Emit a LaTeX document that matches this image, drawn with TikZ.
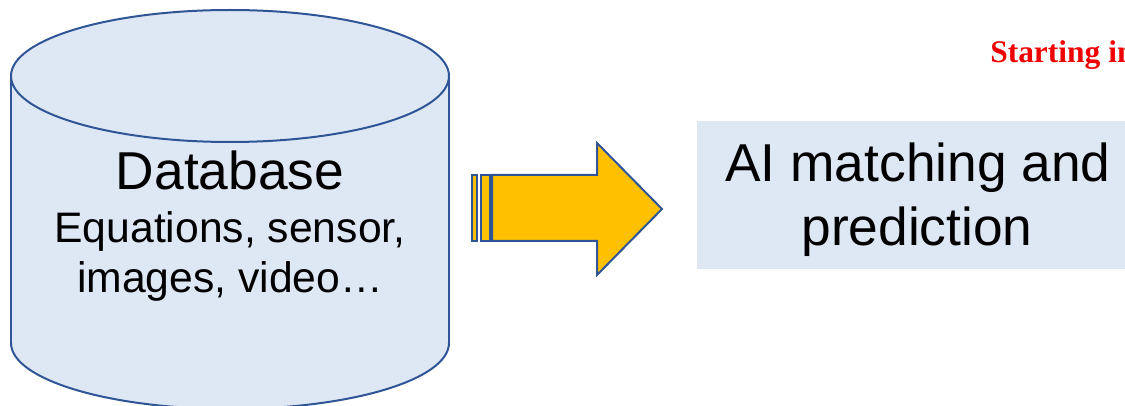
\documentclass[tikz,border=0pt]{standalone}
\usepackage{fontspec}
\setmainfont{Liberation Sans}
\newfontfamily\redserif{Liberation Serif}
\definecolor{paleblue}{HTML}{DEE8F5}
\definecolor{edgeblue}{HTML}{2F5597}
\definecolor{gold}{HTML}{FFC000}
\definecolor{notered}{HTML}{F00000}
\tikzset{
  drum/.style={fill=paleblue, draw=edgeblue, line width=1.5pt},
  bigtext/.style={font=\fontsize{40}{46}\selectfont, inner sep=0pt, anchor=base},
  subtext/.style={font=\fontsize{32}{37}\selectfont, inner sep=0pt, anchor=base},
  flowarrow/.style={fill=gold, draw=edgeblue, line width=1.5pt, line join=miter},
  panel/.style={fill=paleblue, draw=none},
}
\begin{document}
\begin{tikzpicture}[x=0.75pt, y=-0.75pt]
\useasboundingbox (0,0) rectangle (1125,406);
\clip (0,0) rectangle (1125,406);

% database cylinder
\fill[paleblue] (11,76) rectangle (449,343);
\fill[paleblue] (230,343) ellipse [x radius=219, y radius=66];
\begin{scope}
  \clip (0,343) rectangle (1125,420);
  \draw[edgeblue, line width=1.5pt] (230,343) ellipse [x radius=219, y radius=66];
\end{scope}
\draw[edgeblue, line width=1.5pt] (11,76) -- (11,343) (449,76) -- (449,343);
\draw[drum] (230,76) ellipse [x radius=219, y radius=66];

\node[bigtext] (dbtitle) at (230,190) {Database};
\node[subtext] (dbline1) at (230,243) {Equations, sensor,};
\node[subtext] (dbline2) at (230,292) {images, video…};

% block arrow with tail stripes
\coordinate (tail) at (492,208);
\coordinate (tip) at (662,209);
\draw[flowarrow] (471.5,175) rectangle (477,241);
\draw[flowarrow] (480.5,175) rectangle (489.5,241);
\draw[flowarrow] (492,175) -- (597,175) -- (597,143) -- (tip) -- (597,275)
  -- (597,241) -- (492,241) -- cycle;

% prediction panel
\fill[panel] (697,121) rectangle (1160,269);
\node[bigtext] (ailine1) at (918,182) {AI matching and};
\node[bigtext] (ailine2) at (917,245) {prediction};

% red note, running on past the right edge
\node[font=\redserif\bfseries\fontsize{23.6}{28}\selectfont, text=notered,
      inner sep=0pt, anchor=base west] (note) at (990,63) {Starting in};
\end{tikzpicture}
\end{document}
